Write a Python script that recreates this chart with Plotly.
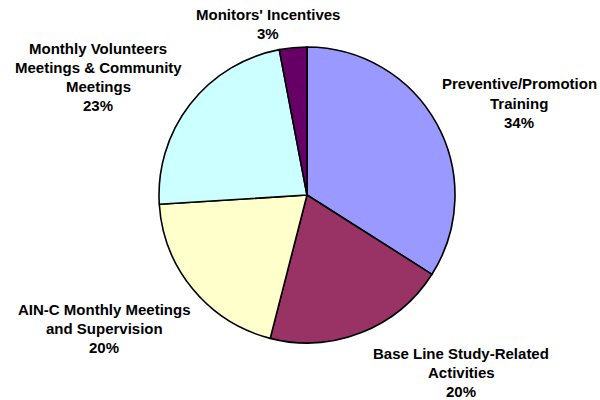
import plotly.graph_objects as go

# Budget shares by activity (percent), clockwise from 12 o'clock
categories = [
    "Preventive/Promotion Training",
    "Base Line Study-Related Activities",
    "AIN-C Monthly Meetings and Supervision",
    "Monthly Volunteers Meetings & Community Meetings",
    "Monitors' Incentives",
]
shares = [34, 20, 20, 23, 3]
colors = ["#9999FF", "#993366", "#FFFFCC", "#CCFFFF", "#660066"]

# How each category name is wrapped in its outside label
label_lines = [
    ["Preventive/Promotion", "Training"],
    ["Base Line Study-Related", "Activities"],
    ["AIN-C Monthly Meetings", "and Supervision"],
    ["Monthly Volunteers", "Meetings & Community", "Meetings"],
    ["Monitors' Incentives"],
]

W, H = 600, 400
# label block placement: (center x px, first-line y px)
label_anchor = [(519, 84), (461, 353), (104, 309), (98, 48), (268, 14)]
LINE_STEP = 19.3

fig = go.Figure(
    go.Pie(
        labels=categories,
        values=shares,
        sort=False,
        direction="clockwise",
        rotation=0,
        marker=dict(colors=colors, line=dict(color="#000000", width=1.6)),
        textinfo="none",
        hoverinfo="label+percent",
        domain=dict(x=[159 / W, 455 / W], y=[1 - 343 / H, 1 - 47 / H]),
        showlegend=False,
    )
)

annotations = []
for lines, share, (cx, y0) in zip(label_lines, shares, label_anchor):
    for i, txt in enumerate(lines + [f"{share}%"]):
        annotations.append(
            dict(
                x=cx / W,
                y=1 - (y0 + i * LINE_STEP) / H,
                xref="paper",
                yref="paper",
                text=txt,
                showarrow=False,
                xanchor="center",
                yanchor="middle",
                font=dict(family="Liberation Sans, Arial, sans-serif", size=15,
                          color="#000000", weight="bold"),
            )
        )

fig.update_layout(
    width=W,
    height=H,
    margin=dict(l=0, r=0, t=0, b=0),
    paper_bgcolor="#FFFFFF",
    plot_bgcolor="#FFFFFF",
    annotations=annotations,
)

fig.write_html("out.html")
